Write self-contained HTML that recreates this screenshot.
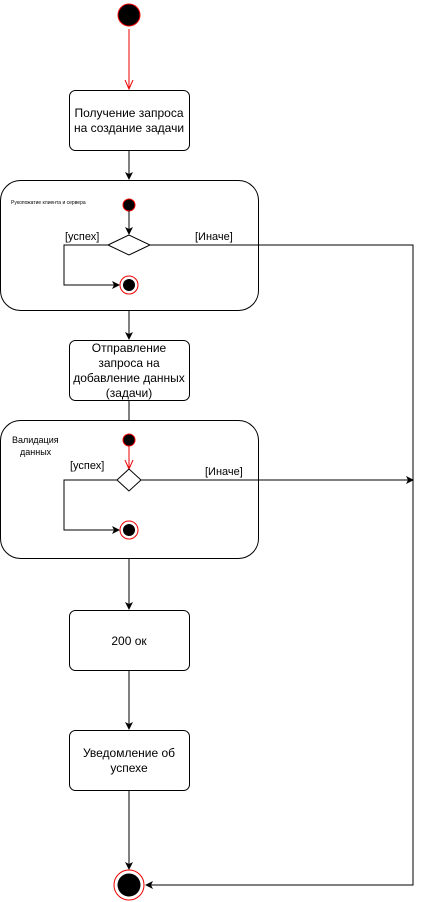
<!DOCTYPE html>
<html><head><meta charset="utf-8"><style>body{margin:0;background:#fff}svg{display:block}text{font-family:"Liberation Sans","Noto Sans CJK SC",sans-serif}</style></head><body>
<svg width="423" height="902" viewBox="0 0 423 902">
<defs>
<marker id="a" markerWidth="8" markerHeight="8" refX="7" refY="4" orient="auto" markerUnits="userSpaceOnUse"><path d="M0,0 L8,4 L0,8 L2,4 Z" fill="#000"/></marker>
<marker id="r" markerWidth="10" markerHeight="10" refX="9" refY="5" orient="auto" markerUnits="userSpaceOnUse"><path d="M0,1 L9,5 L0,9" fill="none" stroke="#e00" stroke-width="1"/></marker>
</defs>
<g stroke="#000" fill="none" stroke-width="1">
<circle cx="129" cy="15" r="11" fill="#000" stroke="#e00"/>
<line x1="129" y1="29" x2="129" y2="89" stroke="#e00" marker-end="url(#r)"/>
<rect x="69.5" y="90.5" width="120" height="60" rx="6" fill="#fff"/>
<line x1="129" y1="151" x2="129" y2="179" marker-end="url(#a)"/>
<rect x="0.5" y="180.5" width="258" height="130" rx="20" fill="#fff"/>
<circle cx="129" cy="205" r="6" fill="#000" stroke="#e00"/>
<line x1="129" y1="211" x2="129" y2="234" marker-end="url(#a)"/>
<polygon points="108,245 129,235 150,245 129,255" fill="#fff"/>
<polyline points="108,245 64,245 64,285 119,285" marker-end="url(#a)"/>
<circle cx="129" cy="285" r="9" stroke="#e00" fill="#fff"/>
<circle cx="129" cy="285" r="6" fill="#000" stroke="none"/>
<polyline points="150,245 413,245 413,885 146,885" marker-end="url(#a)"/>
<line x1="129" y1="311" x2="129" y2="339" marker-end="url(#a)"/>
<rect x="69.5" y="340.5" width="120" height="60" rx="6" fill="#fff"/>
<line x1="129" y1="401" x2="129" y2="420"/>
<rect x="0.5" y="420.5" width="258" height="138" rx="20" fill="#fff"/>
<circle cx="129" cy="440" r="6" fill="#000" stroke="#e00"/>
<line x1="129" y1="446" x2="129" y2="469" stroke="#e00" marker-end="url(#r)"/>
<polygon points="117,480 129,469 141,480 129,491" fill="#fff"/>
<polyline points="117,480 64,480 64,530 119,530" marker-end="url(#a)"/>
<circle cx="129" cy="530" r="9" stroke="#e00" fill="#fff"/>
<circle cx="129" cy="530" r="6" fill="#000" stroke="none"/>
<line x1="141" y1="480" x2="413" y2="480" marker-end="url(#a)"/>
<line x1="129" y1="559" x2="129" y2="609" marker-end="url(#a)"/>
<rect x="69.5" y="610.5" width="120" height="60" rx="6" fill="#fff"/>
<line x1="129" y1="671" x2="129" y2="729" marker-end="url(#a)"/>
<rect x="69.5" y="730.5" width="120" height="60" rx="6" fill="#fff"/>
<line x1="129" y1="791" x2="129" y2="869" marker-end="url(#a)"/>
<circle cx="129" cy="885" r="15" stroke="#e00" fill="#fff"/>
<circle cx="129" cy="885" r="11.5" fill="#000" stroke="none"/>
</g>
<g font-size="12" fill="#000" text-anchor="middle">
<text x="129" y="117">Получение запроса</text>
<text x="129" y="132">на создание задачи</text>
<text x="129" y="352">Отправление</text>
<text x="129" y="367">запроса на</text>
<text x="129" y="382">добавление данных</text>
<text x="129" y="397">(задачи)</text>
<text x="129" y="645">200 ок</text>
<text x="129" y="757">Уведомление об</text>
<text x="129" y="772">успехе</text>
</g>
<g font-size="11" fill="#000">
<text x="65" y="240">[успех]</text>
<text x="195" y="240">[Иначе]</text>
<text x="70" y="469">[успех]</text>
<text x="205" y="475">[Иначе]</text>
<text x="12" y="443" font-size="9">Валидация</text>
<text x="20" y="455" font-size="9">данных</text>
<text x="11" y="204" font-size="5">Рукопожатие клиента и сервера</text>
</g>
</svg>
</body></html>
